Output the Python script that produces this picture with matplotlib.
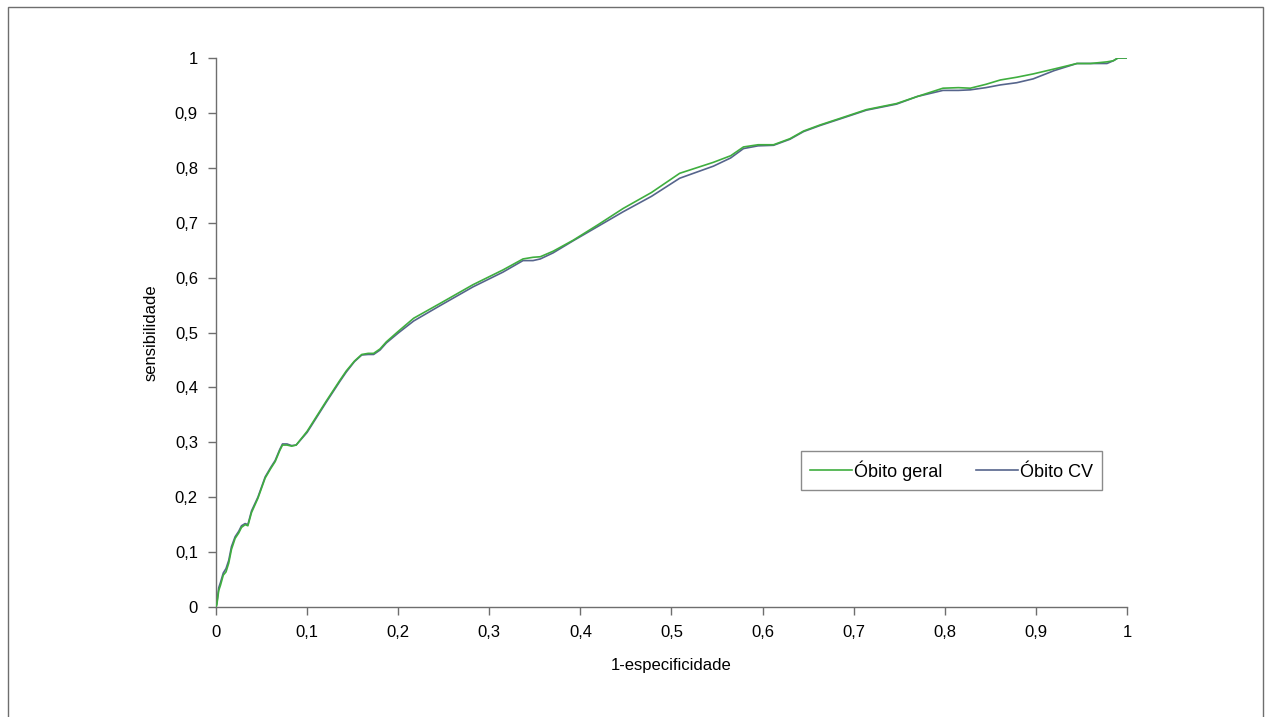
import numpy as np
import matplotlib.pyplot as plt
from matplotlib.patches import Rectangle

# curva ROC
fpr = [0, .001, .003, .005, .008, .011, .014, .017, .021, .025, .028, .032, .035,
       .039, .046, .054, .060, .065, .070, .073, .078, .083, .088, .10, .121,
       .136, .143, .152, .160, .167, .173, .180, .187, .20, .217, .246, .282,
       .315, .337, .348, .356, .37, .392, .42, .447, .478, .509, .546, .565,
       .579, .595, .612, .63, .645, .663, .685, .714, .747, .77, .798, .815,
       .828, .845, .861, .879, .897, .92, .945, .96, .978, .985, .99, 1.0]

sens_geral = [0, .005, .03, .04, .058, .064, .08, .105, .125, .135, .145, .15,
              .148, .172, .198, .235, .252, .265, .285, .295, .295, .293, .295,
              .32, .375, .413, .43, .448, .46, .462, .462, .47, .483, .502, .526,
              .553, .587, .614, .634, .637, .638, .648, .668, .697, .726, .755,
              .79, .81, .822, .838, .842, .842, .853, .867, .878, .89, .906, .917,
              .93, .945, .946, .945, .952, .96, .965, .971, .98, .99, .99, .993,
              .995, 1.0, 1.0]

sens_cv = [0, .008, .035, .045, .062, .07, .085, .11, .128, .138, .148, .152,
           .15, .175, .2, .237, .254, .267, .287, .297, .297, .294, .295,
           .318, .373, .411, .428, .447, .459, .46, .46, .468, .481, .499, .521,
           .549, .583, .61, .631, .631, .634, .645, .667, .694, .72, .748,
           .781, .803, .818, .835, .84, .841, .852, .866, .877, .889, .905, .916,
           .93, .941, .941, .942, .946, .951, .955, .962, .977, .99, .99, .99,
           .995, 1.0, 1.0]

ticks = [0, .1, .2, .3, .4, .5, .6, .7, .8, .9, 1]
tick_labels = ['0', '0,1', '0,2', '0,3', '0,4', '0,5', '0,6', '0,7', '0,8', '0,9', '1']

plt.rcParams['font.family'] = ['Liberation Sans', 'DejaVu Sans']

fig = plt.figure(figsize=(12.69, 7.17), dpi=100)
ax = fig.add_axes([0.1702, 0.1534, 0.7179, 0.7657])

# moldura externa
fig.patches.append(Rectangle((8 / 1269, -0.01), 1255 / 1269, 1 - 7 / 717 + 0.01,
                             transform=fig.transFigure, fill=False,
                             edgecolor='#6e6e6e', linewidth=1.0))

ax.plot(fpr, sens_geral, color='#3fae3f', linewidth=1.2, label='Óbito geral', zorder=3)
ax.plot(fpr, sens_cv, color='#56658c', linewidth=1.2, label='Óbito CV', zorder=2)

ax.set_xlim(0, 1)
ax.set_ylim(0, 1)
ax.set_xticks(ticks)
ax.set_xticklabels(tick_labels)
ax.set_yticks(ticks)
ax.set_yticklabels(tick_labels)

for s in ['top', 'right']:
    ax.spines[s].set_visible(False)
for s in ['left', 'bottom']:
    ax.spines[s].set_color('#6e6e6e')
    ax.spines[s].set_linewidth(1.0)

ax.tick_params(direction='out', length=6, width=1.0, color='#6e6e6e',
               labelsize=12, labelcolor='black', pad=7)

ax.set_xlabel('1-especificidade', fontsize=12, labelpad=13)
ax.set_ylabel('sensibilidade', fontsize=12, labelpad=12)

leg = ax.legend(loc='center', bbox_to_anchor=(0.7498, 0.3438),
                bbox_transform=fig.transFigure, ncol=2, fontsize=13,
                frameon=True, fancybox=False, handlelength=2.3,
                handletextpad=0.1, columnspacing=1.9, borderpad=0.5,
                borderaxespad=0)
leg.get_frame().set_edgecolor('#6e6e6e')
leg.get_frame().set_linewidth(1.0)

fig.savefig('out.png', dpi=100)
